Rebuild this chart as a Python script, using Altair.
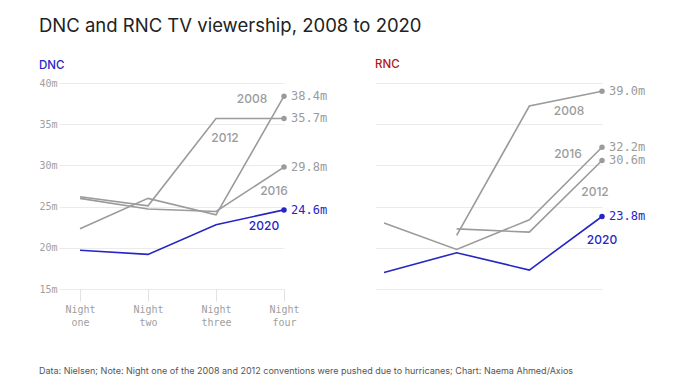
import altair as alt
import pandas as pd

# ---- data ----
nights = ["Night one", "Night two", "Night three", "Night four"]
years = ["2008", "2012", "2016", "2020"]

dnc_2008 = [22.3, 26.0, 24.0, 38.4]
dnc_2012 = [26.2, 25.1, 35.7, 35.7]
dnc_2016 = [26.0, 24.7, 24.4, 29.8]
dnc_2020 = [19.7, 19.2, 22.8, 24.6]

rnc_2008 = [None, 21.5, 37.2, 39.0]
rnc_2012 = [None, 22.3, 21.9, 30.6]
rnc_2016 = [23.0, 19.8, 23.4, 32.2]
rnc_2020 = [17.0, 19.4, 17.3, 23.8]

y_ticks = [15, 20, 25, 30, 35, 40]

title_text = "DNC and RNC TV viewership, 2008 to 2020"
footer_text = ("Data: Nielsen; Note: Night one of the 2008 and 2012 conventions were pushed "
               "due to hurricanes; Chart: Naema Ahmed/Axios")

GRAY = "#9b9b9b"
BLUE = "#2626c4"
RED = "#b51414"
MONO = "DejaVu Sans Mono"
SANS = "Inter"


def make_df(series):
    rows = []
    for yr, vals in zip(years, series):
        for i, v in enumerate(vals):
            if v is not None:
                rows.append({"year": yr, "night": i, "value": v})
    return pd.DataFrame(rows)


label_expr = "[" + ",".join(
    "['" + n.split(" ")[0] + "','" + n.split(" ")[1] + "']" for n in nights
) + "][datum.value]"


def panel(df, accent, name, x_domain, width, show_axes, year_offsets, title_offset):
    color = alt.Color("year:N", scale=alt.Scale(domain=years, range=[GRAY, GRAY, GRAY, accent]),
                      legend=None)
    if show_axes:
        x_axis = alt.Axis(values=[0, 1, 2, 3], labelExpr=label_expr, grid=False, domain=False,
                          tickSize=12, tickColor="#e2e2e2", tickWidth=1, labelFont=MONO,
                          labelFontSize=10, labelColor="#a0a0a0", labelLineHeight=13,
                          labelPadding=3, labelFlush=False, title=None)
        y_axis = alt.Axis(values=y_ticks, labelExpr="datum.value + 'm'", grid=True,
                          gridColor="#ebebeb", domain=False, ticks=False, labelFont=MONO,
                          labelFontSize=10, labelColor="#a0a0a0", labelPadding=2, title=None,
                          minExtent=0)
    else:
        x_axis = None
        y_axis = alt.Axis(values=y_ticks, labels=False, grid=True, gridColor="#ebebeb",
                          domain=False, ticks=False, title=None, minExtent=0)
    x = alt.X("night:Q", scale=alt.Scale(domain=x_domain, nice=False, zero=False), axis=x_axis)
    y = alt.Y("value:Q", scale=alt.Scale(domain=[15, 40], nice=False, zero=False), axis=y_axis)

    base = alt.Chart(df)
    lines = base.mark_line(strokeWidth=1.6).encode(x=x, y=y, color=color)
    last = base.transform_filter("datum.night == 3")
    dots = last.mark_circle(size=30, opacity=1).encode(x=x, y=y, color=color)
    ends = last.transform_calculate(lbl="format(datum.value, '.1f') + 'm'").mark_text(
        align="left", dx=7, font=MONO, fontSize=12).encode(x=x, y=y, text="lbl:N", color=color)
    layers = [lines, dots, ends]
    for yr, (dx, dy) in zip(years, year_offsets):
        layers.append(
            base.transform_filter(f"datum.night == 3 && datum.year == '{yr}'").mark_text(
                dx=dx, dy=dy, font=SANS, fontSize=12, fontWeight=500
            ).encode(x=x, y=y, text="year:N", color=color)
        )
    return alt.layer(*layers).properties(
        width=width, height=206,
        title=alt.TitleParams(name, anchor="start", frame="bounds", color=accent, font=SANS,
                              fontSize=11.5, fontWeight=500, offset=title_offset),
    )


dnc = panel(make_df([dnc_2008, dnc_2012, dnc_2016, dnc_2020]), BLUE, "DNC",
            [-0.309, 3], 225, True,
            [(-32, 2.5), (-59, 20), (-10, 23.5), (-20, 16)], 7)
rnc = panel(make_df([rnc_2008, rnc_2012, rnc_2016, rnc_2020]), RED, "RNC",
            [-0.124, 3], 227, False,
            [(-33, 20), (-7, 32), (-34, 7), (0, 24)], 13)

inner = alt.hconcat(dnc, rnc, spacing=47).properties(
    title=alt.TitleParams(title_text, anchor="start", frame="bounds", font=SANS, fontSize=18.5,
                          fontWeight=400, color="#222222", offset=23)
)

chart = alt.vconcat(inner).properties(
    title=alt.TitleParams(footer_text, orient="bottom", anchor="start", frame="bounds",
                          font=SANS, fontSize=9, fontWeight=400, color="#555555",
                          offset=40),
    padding={"left": 30, "top": 9, "right": 5, "bottom": 5},
).configure_view(stroke=None)

chart.save("out.html", embed_options={"renderer": "svg", "actions": False})
